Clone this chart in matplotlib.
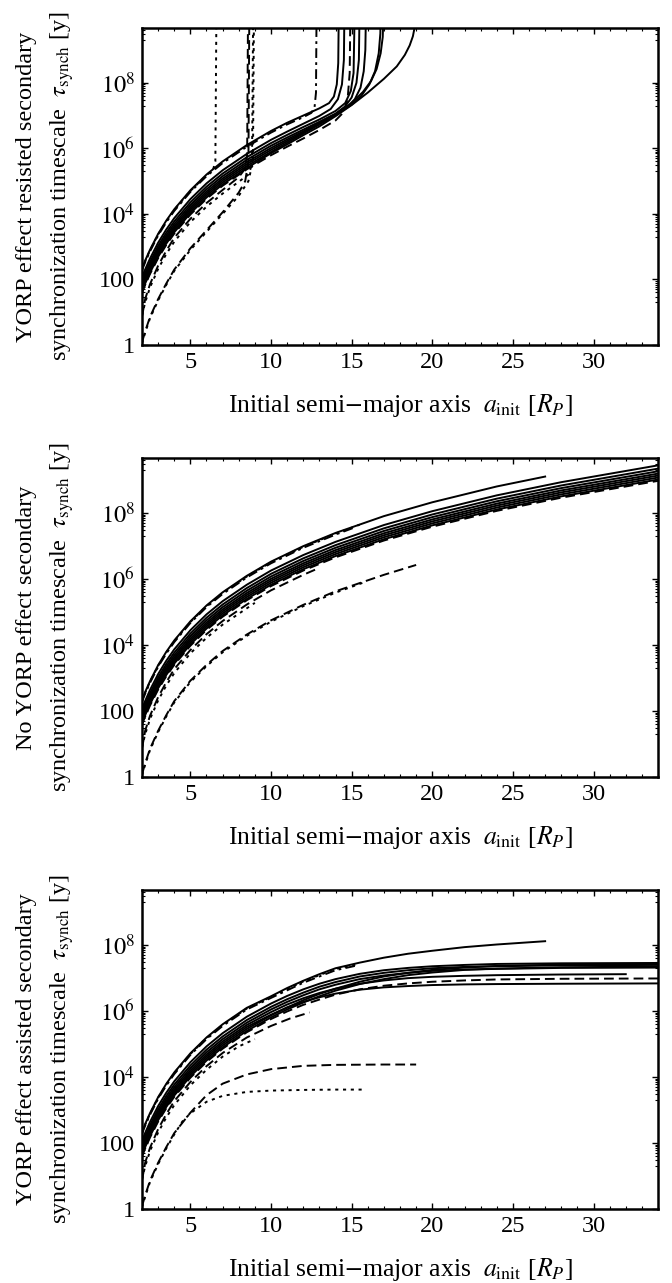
import numpy as np
import matplotlib.pyplot as plt
from matplotlib import rcParams
from matplotlib.ticker import FixedLocator, FixedFormatter, MultipleLocator, NullFormatter

rcParams['font.family'] = 'serif'
rcParams['font.serif'] = ['Liberation Serif', 'DejaVu Serif']
rcParams['mathtext.fontset'] = 'stix'

# initial semi-major axis a_init [R_P] where the early part of every curve is tabulated
a_early = [2.0, 2.2, 2.5, 3.0, 3.5, 4.0, 5.0, 6.0, 7.0, 8.5]
a_wide = [10, 12, 14, 17, 20, 24, 28, 34]
a_flat = [10, 11, 12, 13, 14, 15.5, 17, 18.5, 20, 22, 24, 28, 34]

# log10(tau_synch / yr) on a_early (the three scenarios coincide close in)
s1_early = [2.33, 2.58, 2.91, 3.39, 3.79, 4.14, 4.72, 5.20, 5.60, 6.10]
s2_early = [2.06, 2.31, 2.64, 3.12, 3.52, 3.87, 4.45, 4.93, 5.33, 5.83]
s3_early = [1.96, 2.21, 2.54, 3.02, 3.42, 3.77, 4.35, 4.83, 5.23, 5.73]
s4_early = [1.88, 2.13, 2.46, 2.94, 3.34, 3.69, 4.27, 4.75, 5.15, 5.65]
s5_early = [1.81, 2.06, 2.39, 2.87, 3.27, 3.62, 4.20, 4.68, 5.08, 5.58]
s6_early = [1.75, 2.00, 2.33, 2.81, 3.21, 3.56, 4.14, 4.62, 5.02, 5.52]
s7_early = [1.69, 1.94, 2.27, 2.75, 3.15, 3.50, 4.08, 4.56, 4.96, 5.46]
s8_early = [1.63, 1.88, 2.21, 2.69, 3.09, 3.44, 4.02, 4.50, 4.90, 5.40]
d1_early = [1.59, 1.84, 2.17, 2.65, 3.05, 3.40, 3.98, 4.46, 4.86, 5.36]
p1_early = [2.31, 2.56, 2.89, 3.37, 3.77, 4.12, 4.70, 5.18, 5.58, 6.08]
dd1_early = [2.28, 2.53, 2.86, 3.34, 3.74, 4.09, 4.67, 5.15, 5.55, 6.05]
d2_early = [0.86, 1.41, 1.86, 2.42, 2.87, 3.27, 3.85, 4.33, 4.73, 5.23]
p2_early = [0.90, 1.30, 1.76, 2.32, 2.77, 3.15, 3.75, 4.22, 4.62]
d3_early = [0.08, 0.42, 0.86, 1.40, 1.87, 2.30, 2.92, 3.40, 3.82, 4.32]
p3_early = [0.05, 0.38, 0.82, 1.36, 1.83, 2.26, 2.88, 3.36, 3.78, 4.28]

# outer parts: (points of the early part kept, a_init, log10 tau)
# YORP resisted
s1_res = (10, [10, 11, 12, 13, 13.6, 13.9, 14.08, 14.17, 14.21],
          [6.53, 6.78, 7.00, 7.22, 7.38, 7.58, 7.95, 8.6, 10.5])
s2_res = (10, [10, 11, 12, 13, 13.7, 14.15, 14.4, 14.52, 14.56],
          [6.26, 6.51, 6.75, 6.99, 7.2, 7.5, 7.95, 8.7, 10.5])
s3_res = (10, [10, 11, 12, 13, 14, 14.6, 14.95, 15.12, 15.2],
          [6.16, 6.41, 6.65, 6.88, 7.14, 7.38, 7.75, 8.3, 10.5])
s4_res = (10, [10, 11, 12, 13, 14, 14.6, 15.0, 15.3, 15.45, 15.5],
          [6.08, 6.33, 6.57, 6.81, 7.06, 7.28, 7.55, 8.0, 8.7, 10.5])
s5_res = (10, [10, 11, 12, 13, 14, 14.7, 15.2, 15.55, 15.75, 15.85, 15.9],
          [6.01, 6.27, 6.52, 6.77, 7.03, 7.25, 7.5, 7.85, 8.35, 9.0, 10.5])
s6_res = (10, [10, 11, 12, 13, 14, 15, 15.6, 16.1, 16.45, 16.68, 16.78, 16.82],
          [5.95, 6.22, 6.48, 6.74, 7.01, 7.33, 7.6, 7.95, 8.35, 8.9, 9.5, 10.5])
s7_res = (10, [10, 11, 12, 13, 14, 15, 15.7, 16.2, 16.55, 16.8, 16.93, 17.0],
          [5.89, 6.17, 6.45, 6.73, 7.03, 7.38, 7.72, 8.05, 8.42, 8.9, 9.4, 10.5])
s8_res = (10, [10, 11, 12, 13, 14, 15, 16, 17, 17.8, 18.3, 18.6, 18.8, 18.93, 18.97],
          [5.85, 6.12, 6.40, 6.67, 6.98, 7.32, 7.70, 8.12, 8.50, 8.85, 9.14, 9.42, 9.75, 10.5])
d1_res = (10, [10, 11, 12, 13, 14, 14.5, 14.75, 14.88, 14.93],
          [5.79, 6.05, 6.30, 6.56, 6.85, 7.1, 7.5, 8.3, 10.5])
p1_res = (7, [6.0, 6.4, 6.55, 6.62], [5.18, 5.34, 5.6, 10.5])
dd1_res = (10, [10, 11, 12, 12.5, 12.7, 12.79, 12.83], [6.48, 6.73, 6.95, 7.08, 7.25, 7.7, 10.5])
d2_res = (9, [8.0, 8.35, 8.52, 8.58], [5.12, 5.35, 5.8, 10.5])
p2_res = (9, [8.0, 8.6, 8.82, 8.9], [4.98, 5.2, 5.5, 10.5])
d3_res = (6, [5.0, 6.0, 7.0, 8.0, 8.4, 8.6, 8.66], [2.95, 3.50, 4.05, 4.65, 5.0, 5.6, 10.5])
p3_res = (6, [5.0, 6.0, 7.0, 8.0, 8.6, 8.88, 8.95], [2.90, 3.45, 4.00, 4.55, 5.0, 5.6, 10.5])

# no YORP
s1_none = (10, [10, 12, 14, 17, 20, 24, 27], [6.53, 7.00, 7.40, 7.91, 8.33, 8.81, 9.11])
s2_none = (10, a_wide, [6.26, 6.73, 7.13, 7.64, 8.06, 8.54, 8.94, 9.45])
s3_none = (10, a_wide, [6.16, 6.63, 7.03, 7.54, 7.96, 8.44, 8.84, 9.35])
s4_none = (10, a_wide, [6.08, 6.55, 6.95, 7.46, 7.88, 8.36, 8.76, 9.27])
s5_none = (10, a_wide, [6.01, 6.48, 6.88, 7.39, 7.81, 8.29, 8.69, 9.20])
s6_none = (10, a_wide, [5.95, 6.42, 6.82, 7.33, 7.75, 8.23, 8.63, 9.14])
s7_none = (10, a_wide, [5.89, 6.36, 6.76, 7.27, 7.69, 8.17, 8.57, 9.08])
s8_none = (10, a_wide, [5.83, 6.30, 6.70, 7.21, 7.63, 8.11, 8.51, 9.02])
d1_none = (10, a_wide, [5.79, 6.26, 6.66, 7.17, 7.59, 8.07, 8.47, 8.98])
p1_none = (10, [10, 12, 14, 15.5], [6.51, 6.98, 7.38, 7.65])
dd1_none = (10, [10, 12, 14, 15.2], [6.48, 6.95, 7.35, 7.57])
d2_none = (10, [10, 12, 12.8], [5.66, 6.13, 6.30])
p2_none = (9, [8.0, 9.0], [4.95, 5.28])
d3_none = (10, [10, 12, 14, 17, 19], [4.75, 5.22, 5.63, 6.13, 6.43])
p3_none = (10, [10, 12, 14, 15.7], [4.71, 5.18, 5.59, 5.89])

# YORP assisted
s1_ast = (10, [10, 11, 12, 13, 14, 15.5, 17, 18.5, 20, 22, 24, 27],
          [6.45, 6.70, 6.92, 7.12, 7.30, 7.47, 7.62, 7.74, 7.83, 7.94, 8.02, 8.12])
s2_ast = (10, a_flat, [6.23, 6.46, 6.66, 6.83, 6.97, 7.13, 7.24, 7.31, 7.36, 7.40, 7.43, 7.45, 7.46])
s3_ast = (10, a_flat, [6.13, 6.36, 6.56, 6.74, 6.88, 7.05, 7.16, 7.24, 7.30, 7.34, 7.36, 7.39, 7.40])
s4_ast = (10, a_flat, [6.05, 6.28, 6.48, 6.66, 6.80, 6.97, 7.08, 7.16, 7.22, 7.26, 7.28, 7.31, 7.32])
s5_ast = (10, [10, 11, 12, 13, 14, 15.5, 17, 18.5, 20, 22, 24, 28, 32],
          [5.97, 6.20, 6.39, 6.55, 6.68, 6.83, 6.93, 7.00, 7.04, 7.07, 7.09, 7.11, 7.12])
s6_ast = (10, a_flat, [5.89, 6.11, 6.28, 6.42, 6.53, 6.65, 6.72, 6.76, 6.79, 6.81, 6.82, 6.83, 6.84])
s7_ast = (10, a_flat, [5.87, 6.11, 6.33, 6.52, 6.68, 6.89, 7.05, 7.16, 7.25, 7.32, 7.37, 7.41, 7.43])
s8_ast = (10, a_flat, [5.81, 6.05, 6.26, 6.45, 6.62, 6.82, 6.97, 7.09, 7.17, 7.25, 7.29, 7.33, 7.35])
d1_ast = (10, a_flat, [5.76, 5.99, 6.19, 6.35, 6.50, 6.66, 6.77, 6.84, 6.89, 6.93, 6.96, 6.98, 6.99])
p1_ast = (10, [10, 12, 14, 15.5], [6.43, 6.90, 7.28, 7.43])
dd1_ast = (10, [10, 12, 14, 15.2], [6.40, 6.86, 7.24, 7.37])
d2_ast = (9, [8.5, 10, 11.2, 12.4], [5.20, 5.55, 5.78, 5.96])
p2_ast = (9, [8.0, 9.0], [4.93, 5.15])
d3_ast = (6, [5.0, 6.0, 7.0, 8.5, 10, 12, 14, 17, 19], [2.92, 3.45, 3.80, 4.08, 4.24, 4.34, 4.37, 4.38, 4.38])
p3_ast = (6, [4.5, 5.0, 6.0, 7.0, 8.5, 10, 12, 14, 15.7], [2.65, 2.90, 3.25, 3.43, 3.55, 3.59, 3.61, 3.62, 3.62])

solid = dict(linestyle='-')
dash = dict(dashes=(5.0, 2.6))
dot = dict(dashes=(1.6, 2.4))
dashdot = dict(dashes=(5.0, 2.2, 1.4, 2.2))

curves = [
    (solid, s1_early, s1_res, s1_none, s1_ast),
    (solid, s2_early, s2_res, s2_none, s2_ast),
    (solid, s3_early, s3_res, s3_none, s3_ast),
    (solid, s4_early, s4_res, s4_none, s4_ast),
    (solid, s5_early, s5_res, s5_none, s5_ast),
    (solid, s6_early, s6_res, s6_none, s6_ast),
    (solid, s7_early, s7_res, s7_none, s7_ast),
    (solid, s8_early, s8_res, s8_none, s8_ast),
    (dash, d1_early, d1_res, d1_none, d1_ast),
    (dot, p1_early, p1_res, p1_none, p1_ast),
    (dashdot, dd1_early, dd1_res, dd1_none, dd1_ast),
    (dash, d2_early, d2_res, d2_none, d2_ast),
    (dot, p2_early, p2_res, p2_none, p2_ast),
    (dash, d3_early, d3_res, d3_none, d3_ast),
    (dot, p3_early, p3_res, p3_none, p3_ast),
]

ylabels = ['YORP effect resisted secondary',
           'No YORP effect secondary',
           'YORP effect assisted secondary']
xlabel = r'Initial semi$-$major axis  $a_{\rm init}$ [$R_P$]'
ylabel2 = r'synchronization timescale  $\tau_{\rm synch}$ [y]'

x_ticks = [5, 10, 15, 20, 25, 30]
y_ticks = [1, 1e2, 1e4, 1e6, 1e8]
y_ticklabels = ['1', '100', r'$10^4$', r'$10^6$', r'$10^8$']
y_minor = [k * 10.0 ** n for n in (1, 3, 5, 7, 9) for k in range(2, 10)]

fig = plt.figure(figsize=(6.72, 12.83), dpi=100)
boxes = [[0.2113, 0.7311, 0.7679, 0.2471],
         [0.2113, 0.3944, 0.7679, 0.2486],
         [0.2113, 0.0577, 0.7679, 0.2486]]

for i, box in enumerate(boxes):
    ax = fig.add_axes(box)
    for style, early, *parts in curves:
        n, a_tail, t_tail = parts[i]
        a = list(a_early[:n]) + list(a_tail)
        t = list(early[:n]) + list(t_tail)
        ax.plot(a, 10.0 ** np.array(t), color='black', lw=1.4, **style)

    ax.set_xlim(2, 34)
    ax.set_yscale('log')
    ax.set_ylim(1, 4.7e9)
    ax.xaxis.set_major_locator(FixedLocator(x_ticks))
    ax.xaxis.set_minor_locator(MultipleLocator(1))
    ax.yaxis.set_major_locator(FixedLocator(y_ticks))
    ax.yaxis.set_major_formatter(FixedFormatter(y_ticklabels))
    ax.yaxis.set_minor_locator(FixedLocator(y_minor))
    ax.yaxis.set_minor_formatter(NullFormatter())
    ax.tick_params(which='both', direction='in', top=True, right=True)
    ax.tick_params(which='major', length=4.5, width=1.0, labelsize=17.5, pad=5)
    ax.tick_params(which='minor', length=2.2, width=0.8)
    for sp in ax.spines.values():
        sp.set_linewidth(1.8)

    ax.text(0.5, -0.19, xlabel, transform=ax.transAxes, ha='center', va='center',
            fontsize=18.5)
    yc = box[1] + box[3] / 2
    fig.text(0.068, yc, ylabels[i] + '\n' + ylabel2, rotation=90, ha='center',
             va='center', multialignment='center', linespacing=1.6, fontsize=17.5)

fig.savefig('out.png', dpi=100)
